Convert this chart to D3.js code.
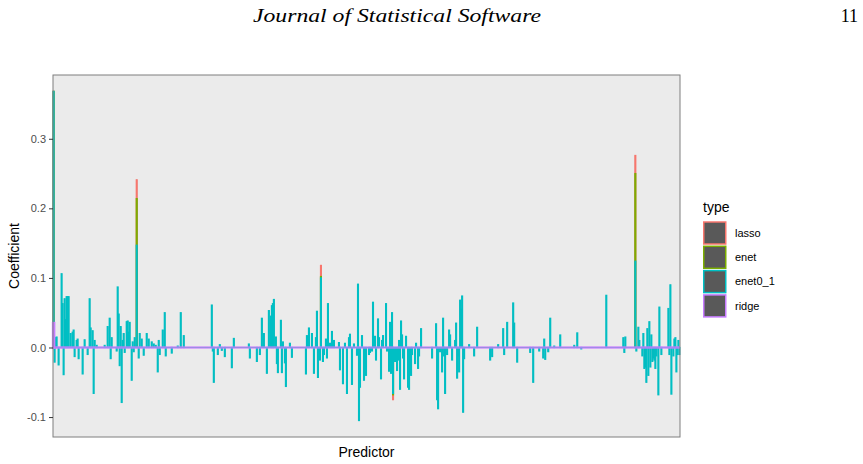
<!DOCTYPE html>
<meta charset="utf-8">
<style>
body { margin: 0; background: #fff; }
text { font-family: "Liberation Sans", Arial, sans-serif; }
.header { font-family: "Liberation Serif", "DejaVu Serif", serif; }
</style>
<svg width="863" height="464"></svg>
<script src="https://d3js.org/d3.v7.min.js"></script>
<script>

// number of predictors on the x axis
var nPredictors = 626;

// series names and colours (ggplot hues)
var types = ["lasso", "enet", "enet0_1", "ridge"];
var typeColors = ["#F8766D", "#7CAE00", "#00BFC4", "#C77CFF"];

// non-zero coefficients: [predictor index, coefficient]
var lassoCoef = [[0, 0.368], [83, 0.241], [267, 0.118], [339, -0.075], [581, 0.276]];
var enetCoef = [[0, 0.368], [83, 0.214], [267, 0.102], [339, -0.068], [581, 0.25]];
var ridgeCoef = [[0, 0.035]];
var enet01Coef = [
  [0,0.368],[1,-0.021],[2,0.014],[3,0.015],[5,-0.025],[8,0.106],[9,0.063],[10,-0.039],[11,0.07],[12,0.04],
  [13,0.073],[14,0.073],[15,0.073],[17,0.02],[19,0.022],[20,0.025],[21,-0.013],[23,0.01],[24,0.012],[25,-0.016],
  [29,-0.038],[31,0.011],[34,-0.01],[36,0.07],[37,0.028],[39,0.024],[40,-0.066],[41,0.01],[43,0.003],[51,0.003],
  [54,0.03],[56,0.042],[57,-0.016],[58,0.014],[63,-0.005],[64,0.087],[65,0.048],[66,-0.026],[67,0.03],[68,-0.079],
  [69,0.01],[70,0.02],[71,-0.007],[73,0.037],[74,0.038],[75,0.022],[76,0.036],[78,-0.047],[79,0.008],[80,-0.006],
  [81,0.014],[83,0.147],[85,-0.015],[86,0.02],[88,0.012],[90,-0.011],[93,0.02],[95,0.012],[98,0.008],[100,0.005],
  [102,0.003],[104,-0.035],[105,0.01],[106,-0.01],[109,0.025],[111,0.05],[112,-0.012],[118,-0.008],[124,0.002],[127,0.05],
  [130,0.017],[158,0.061],[159,-0.005],[160,-0.05],[164,-0.01],[166,0.004],[168,-0.004],[171,-0.013],[178,-0.029],[180,0.013],
  [195,0.005],[196,-0.015],[203,-0.02],[206,-0.01],[208,0.042],[210,0.02],[213,-0.037],[215,0.053],[217,0.045],[218,0.06],
  [219,0.063],[220,0.069],[222,0.015],[223,-0.023],[224,-0.036],[227,0.039],[228,-0.036],[229,0.008],[231,-0.022],[232,-0.056],
  [236,0.006],[238,-0.014],[252,-0.038],[253,0.017],[255,0.028],[258,0.02],[260,-0.037],[262,0.014],[263,0.052],[264,-0.043],
  [266,-0.018],[267,0.1],[269,-0.02],[270,-0.01],[272,0.012],[273,-0.015],[274,0.063],[276,0.006],[278,0.023],[280,0.01],
  [285,0.007],[286,-0.032],[289,-0.052],[291,0.006],[293,-0.066],[295,0.014],[296,0.019],[298,-0.053],[300,0.005],[303,-0.011],
  [304,0.091],[305,-0.105],[306,-0.057],[308,0.017],[310,-0.047],[312,-0.04],[315,-0.01],[316,-0.007],[318,-0.005],[319,0.065],
  [321,0.016],[322,-0.018],[324,0.041],[325,0.014],[327,-0.045],[328,0.01],[329,0.017],[332,0.063],[333,-0.005],[335,-0.034],
  [336,0.036],[337,-0.037],[338,0.05],[339,-0.066],[341,-0.02],[343,-0.033],[344,-0.018],[345,0.01],[346,-0.06],[347,0.038],
  [348,0.018],[349,-0.015],[350,-0.045],[352,0.016],[354,-0.057],[355,-0.06],[357,-0.04],[358,-0.01],[361,-0.023],[362,0.006],
  [364,-0.03],[365,-0.012],[367,0.027],[378,-0.015],[382,0.034],[383,-0.075],[384,-0.088],[386,-0.006],[388,-0.035],[389,0.042],
  [390,-0.012],[391,-0.066],[393,-0.01],[395,0.025],[396,0.018],[398,-0.018],[401,0.01],[402,0.035],[403,-0.044],[404,-0.012],
  [405,-0.035],[406,0.068],[407,0.055],[408,0.074],[409,-0.093],[410,-0.016],[415,0.004],[420,-0.012],[423,0.029],[436,-0.018],
  [438,-0.013],[444,0.004],[449,0.027],[450,-0.01],[453,0.036],[459,0.064],[460,0.035],[463,-0.021],[476,-0.007],[479,-0.05],
  [485,-0.005],[489,-0.015],[490,0.012],[491,-0.017],[494,-0.006],[496,0.042],[500,0.002],[506,0.018],[520,0.003],[523,0.021],
  [527,-0.002],[552,0.075],[569,0.014],[570,-0.007],[571,0.015],[581,0.124],[582,-0.005],[584,0.029],[585,0.01],[588,-0.012],
  [589,0.02],[590,-0.03],[591,-0.028],[592,-0.05],[593,0.027],[594,-0.04],[595,0.037],[596,-0.028],[597,0.018],[598,-0.02],
  [599,-0.015],[600,-0.018],[601,-0.03],[602,-0.012],[604,-0.068],[605,0.058],[607,-0.01],[614,0.056],[615,-0.01],[616,0.09],
  [617,-0.067],[619,-0.012],[620,0.012],[621,0.014],[622,-0.035],[623,-0.01],[624,0.01],[625,-0.01]
];

var yTicks = [-0.1, 0.0, 0.1, 0.2, 0.3];

var svg = d3.select("svg"),
    margin = {top: 75, right: 183, bottom: 27, left: 53},
    width = +svg.attr("width") - margin.left - margin.right,
    height = +svg.attr("height") - margin.top - margin.bottom;

// page header
svg.append("text").attr("class", "header")
    .attr("x", 397).attr("y", 22)
    .attr("text-anchor", "middle")
    .attr("font-style", "italic")
    .attr("font-size", 18)
    .attr("textLength", 288).attr("lengthAdjust", "spacingAndGlyphs")
    .text("Journal of Statistical Software");
svg.append("text").attr("class", "header")
    .attr("x", 858).attr("y", 22)
    .attr("text-anchor", "end")
    .attr("font-size", 18)
    .text("11");

var g = svg.append("g").attr("transform", "translate(" + margin.left + "," + margin.top + ")");

// every predictor gets a bar in every series; unlisted coefficients are 0
var predictors = d3.range(nPredictors);
var seriesCoef = [lassoCoef, enetCoef, enet01Coef, ridgeCoef];
var series = types.map(function(t, k) {
  var m = new Map(seriesCoef[k]);
  return {type: t, values: predictors.map(function(p) { return {p: p, v: m.has(p) ? m.get(p) : 0}; })};
});

var x = d3.scalePoint().domain(predictors).range([0, width]).padding(0.6);
var bw = x.step() * 0.9;

var allV = [].concat.apply([], seriesCoef).map(function(d) { return d[1]; });
var ext = d3.extent(allV.concat([0]));
var pad = (ext[1] - ext[0]) * 0.05;
var y = d3.scaleLinear().domain([ext[0] - pad, ext[1] + pad]).range([height, 0]);

var z = d3.scaleOrdinal().domain(types).range(typeColors);

// panel background
g.append("rect").attr("width", width).attr("height", height).attr("fill", "#EBEBEB");

function barPath(d) {
  var x0 = x(d.p) - bw / 2, x1 = x(d.p) + bw / 2;
  var y0 = y(0), y1 = y(d.v);
  return "M" + x0 + "," + y0 + "H" + x1 + "V" + y1 + "H" + x0 + "Z";
}

g.append("g")
  .selectAll("g")
  .data(series)
  .enter().append("g")
    .attr("stroke", function(d) { return z(d.type); })
    .attr("stroke-width", function(d) { return d.type === "ridge" ? 2.6 : 1.2; })
    .attr("fill", "#595959")
  .selectAll("path")
  .data(function(d) { return d.values; })
  .enter().append("path")
    .attr("d", barPath);

// panel border
g.append("rect").attr("width", width).attr("height", height)
    .attr("fill", "none").attr("stroke", "#7f7f7f").attr("stroke-width", 1);

// y axis
var yAxis = g.append("g")
    .call(d3.axisLeft(y).tickValues(yTicks).tickSize(4).tickPadding(3)
      .tickFormat(function(d) { return d.toFixed(1); }));
yAxis.select(".domain").remove();
yAxis.selectAll("line").attr("stroke", "#333333");
yAxis.selectAll("text").attr("fill", "#4D4D4D").attr("font-size", 11)
    .attr("font-family", "Liberation Sans, Arial, sans-serif");

// axis titles
svg.append("text")
    .attr("transform", "translate(19," + (margin.top + height / 2) + ") rotate(-90)")
    .attr("text-anchor", "middle")
    .attr("font-size", 14)
    .text("Coefficient");
svg.append("text")
    .attr("x", margin.left + width / 2).attr("y", 457)
    .attr("text-anchor", "middle")
    .attr("font-size", 14)
    .text("Predictor");

// legend
var legend = svg.append("g").attr("transform", "translate(703,0)");
legend.append("text").attr("x", 0).attr("y", 212).attr("font-size", 14).text("type");
var item = legend.selectAll("g.item")
  .data(types)
  .enter().append("g").attr("class", "item")
    .attr("transform", function(d, i) { return "translate(0," + (222 + i * 24.3) + ")"; });
item.append("rect")
    .attr("x", 0.75).attr("y", 0)
    .attr("width", 22).attr("height", 22)
    .attr("fill", "#595959")
    .attr("stroke", z).attr("stroke-width", 1.5);
item.append("text")
    .attr("x", 32).attr("y", 11)
    .attr("dy", "0.35em")
    .attr("font-size", 11)
    .text(function(d) { return d; });

</script>
